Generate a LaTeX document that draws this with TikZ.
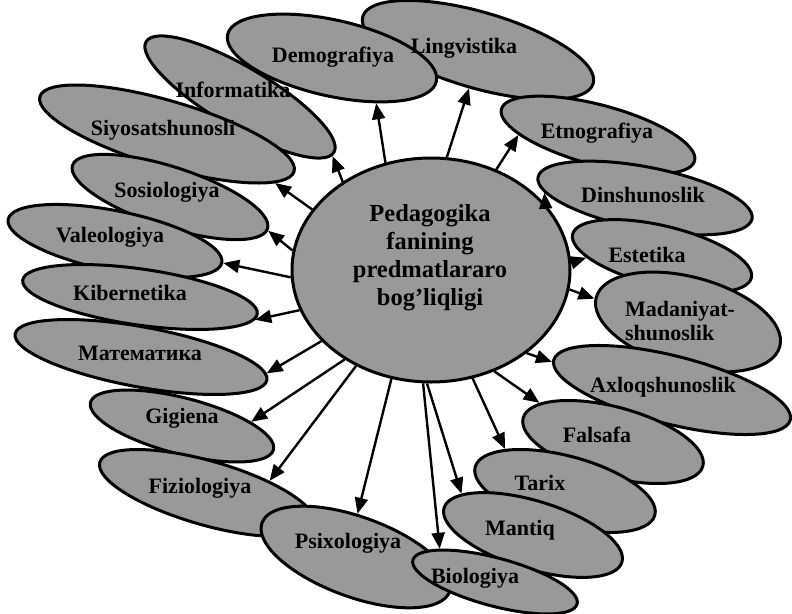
\documentclass[tikz,border=0pt]{standalone}
\usepackage{fontspec}
\setmainfont{Liberation Serif}
\usetikzlibrary{shapes.geometric,arrows.meta}
\tikzset{
  subj/.style={ellipse, draw=black, fill=black!40, line width=3pt, inner sep=0pt},
  subjtext/.style={font=\fontsize{22}{24}\selectfont\bfseries, align=left, inner sep=0pt},
  maintext/.style={font=\fontsize{24.5}{28}\selectfont\bfseries, align=center, inner sep=0pt},
  link/.style={line width=2.4pt, -{Triangle[length=16pt,width=13pt]}}
}

\begin{document}
\begin{tikzpicture}[x=1pt, y=-1pt]
\useasboundingbox (0,0) rectangle (792,613);

% right-hand ring, top to bottom
\node[subj, minimum width=240pt, minimum height=76pt, rotate=-16.2] (ling) at (478,50) {};
\node[subj, minimum width=200pt, minimum height=60pt, rotate=-15] (etno) at (598,135) {};
\node[subj, minimum width=218pt, minimum height=62pt, rotate=-11] (dins) at (645,198) {};
\node[subj, minimum width=184pt, minimum height=60pt, rotate=-13.7] (este) at (662,256) {};
\node[subj, minimum width=190pt, minimum height=90pt, rotate=-15] (mada) at (688,322) {};
\node[subj, minimum width=244pt, minimum height=68pt, rotate=-14.2] (axlo) at (672,390) {};
\node[subj, minimum width=186pt, minimum height=70pt, rotate=-15] (fals) at (613,442) {};
\node[subj, minimum width=186pt, minimum height=70pt, rotate=-15] (tari) at (565,491) {};
\node[subj, minimum width=186pt, minimum height=68pt, rotate=-17] (mant) at (533,535) {};

% left-hand ring, top to bottom
\node[subj, minimum width=218pt, minimum height=60pt, rotate=-30.5] (info) at (240,97) {};
\node[subj, minimum width=265pt, minimum height=66pt, rotate=-16.4] (siyo) at (167,134) {};
\node[subj, minimum width=205pt, minimum height=60pt, rotate=-18] (soso) at (170,197) {};
\node[subj, minimum width=218pt, minimum height=60pt, rotate=-11.5] (vale) at (115,241) {};
\node[subj, minimum width=237pt, minimum height=56pt, rotate=-8.2] (kibe) at (140,297) {};
\node[subj, minimum width=256pt, minimum height=60pt, rotate=-10.4] (mate) at (141,357) {};
\node[subj, minimum width=189pt, minimum height=56pt, rotate=-14.5] (gigi) at (182,426) {};
\node[subj, minimum width=223pt, minimum height=64pt, rotate=-16] (fizi) at (207,493) {};
\node[subj, minimum width=200pt, minimum height=80pt, rotate=-20] (psix) at (356,557) {};
\node[subj, minimum width=170pt, minimum height=48pt, rotate=-15] (biol) at (495,582) {};
\node[subj, minimum width=214pt, minimum height=76pt, rotate=-12.7] (demo) at (332,58) {};

% centre
\node[subj, minimum width=278pt, minimum height=224pt] (ped) at (431,270) {};

% texts
\node[subjtext] (ling-t) at (464,48) {Lingvistika};
\node[subjtext] (etno-t) at (597,133) {Etnografiya};
\node[subjtext] (dins-t) at (643,195) {Dinshunoslik};
\node[subjtext] (este-t) at (647,255) {Estetika};
\node[subjtext] (mada-t) at (680,321) {Madaniyat-\\shunoslik};
\node[subjtext] (axlo-t) at (663,387) {Axloqshunoslik};
\node[subjtext] (fals-t) at (597,435) {Falsafa};
\node[subjtext] (tari-t) at (540,483) {Tarix};
\node[subjtext] (mant-t) at (520,530) {Mantiq};
\node[subjtext] (info-t) at (233,90) {Informatika};
\node[subjtext] (siyo-t) at (163,130) {Siyosatshunosli};
\node[subjtext] (soso-t) at (167,192) {Sosiologiya};
\node[subjtext] (vale-t) at (110,237) {Valeologiya};
\node[subjtext] (kibe-t) at (130,293) {Kibernetika};
\node[subjtext] (mate-t) at (140,353) {Математика};
\node[subjtext] (gigi-t) at (182,418) {Gigiena};
\node[subjtext] (fizi-t) at (200,488) {Fiziologiya};
\node[subjtext] (psix-t) at (348,543) {Psixologiya};
\node[subjtext] (biol-t) at (475,578) {Biologiya};
\node[subjtext] (demo-t) at (333,57) {Demografiya};
\node[maintext] (ped-t) at (430,258) {Pedagogika\\fanining\\predmatlararo\\bog'liqligi};

% arrows
\draw[link] (ped.113) -- (demo.-33);
\draw[link] (ped.82) -- (ling.-87);
\draw[link] (ped.57) -- (etno.-165);
\draw[link] (ped.30) -- (dins.-172);
\draw[link] (ped.3) -- (este.-165);
\draw[link] (ped.-8) -- (mada.-179);
\draw[link] (ped.-41) -- (axlo.-179);
\draw[link] (ped.-58) -- (fals.167);
\draw[link] (ped.-69) -- (tari.160);
\draw[link] (ped.-92) -- (mant.167);
\draw[link] (ped.-94) -- (biol.164);
\draw[link] (ped.-110) -- (psix.108);
\draw[link] (ped.-128) -- (fizi.27);
\draw[link] (ped.-134) -- (gigi.18);
\draw[link] (ped.-147) -- (mate.3);
\draw[link] (ped.-163) -- (kibe.-3);
\draw[link] (ped.-177) -- (vale.0);
\draw[link] (ped.172) -- (soso.-1);
\draw[link] (ped.153) -- (siyo.-8);
\draw[link] (ped.135) -- (info.-2);
\end{tikzpicture}
\end{document}
